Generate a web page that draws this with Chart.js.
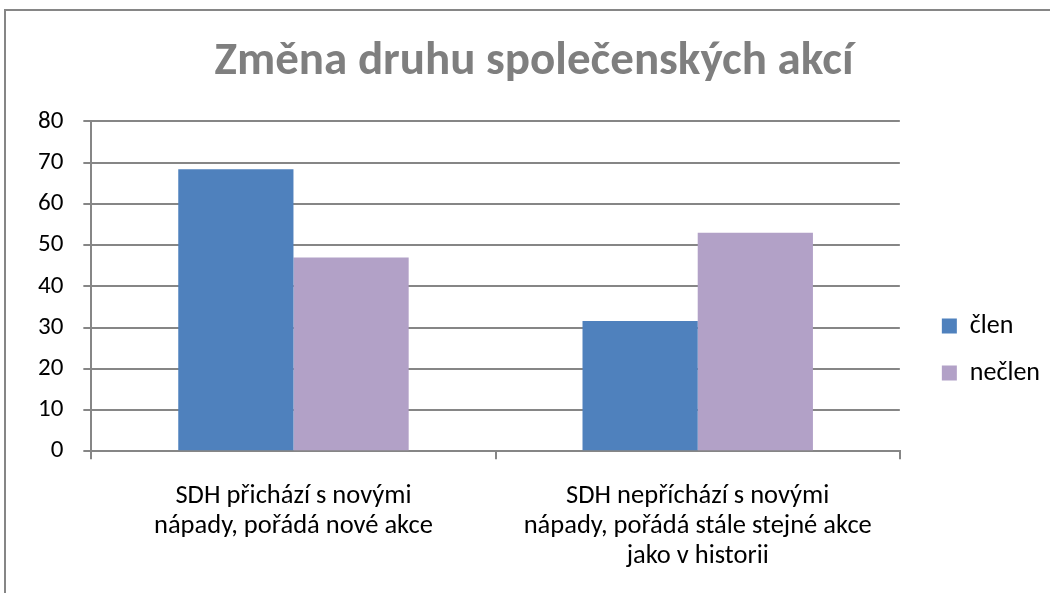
<!DOCTYPE html>
<html>
<head>
<meta charset="utf-8">
<script src="https://cdn.jsdelivr.net/npm/chart.js@4"></script>
<style>
  body { margin: 0; background: #fff; overflow: hidden; }
  #frame { position: absolute; left: 4px; top: 9px; width: 1100px; height: 700px; border: 2px solid #868686; }
  #wrap { position: absolute; left: 0; top: 0; width: 1050px; height: 593px; }
</style>
</head>
<body>
<div id="frame"></div>
<div id="wrap"><canvas id="myChart"></canvas></div>
<script>
var categories = [
    ['SDH přichází s novými', 'nápady, pořádá nové akce'],
    ['SDH nepříchází s novými', 'nápady, pořádá stále stejné akce', 'jako v historii']
];
var clen = [68.4, 31.6];
var neclen = [47, 53];
var yTicks = [0, 10, 20, 30, 40, 50, 60, 70, 80];

var fontFam = 'Carlito, "Open Sans", sans-serif';

// legend sits a bit wider and lower than chart.js puts it
var legendShift = {
    id: 'legendShift',
    beforeInit: function(chart) {
        var lg = chart.legend;
        if (lg && !lg._wide) {
            var fit = lg.fit;
            lg.fit = function() {
                fit.call(this);
                this.width += 21;
            };
            lg._wide = true;
        }
    },
    afterLayout: function(chart) {
        var lg = chart.legend;
        lg.left += 21;
        lg.top += 86;
    }
};

var ctx = document.getElementById('myChart').getContext('2d');
var myChart = new Chart(ctx, {
    type: 'bar',
    data: {
        labels: categories,
        datasets: [{
            label: 'člen',
            data: clen,
            backgroundColor: '#4F81BD',
            borderColor: '#4F81BD',
            borderWidth: 0
        }, {
            label: 'nečlen',
            data: neclen,
            backgroundColor: '#B2A1C7',
            borderColor: '#B2A1C7',
            borderWidth: 0
        }]
    },
    options: {
        responsive: true,
        maintainAspectRatio: false,
        animation: false,
        datasets: {
            bar: { categoryPercentage: 0.57, barPercentage: 1 }
        },
        layout: {
            padding: { left: 18, right: 0, top: 20, bottom: 0 }
        },
        plugins: {
            title: {
                display: true,
                text: 'Změna druhu společenských akcí',
                color: '#7F7F7F',
                font: { family: fontFam, size: 47, weight: 'bold' },
                padding: { top: 14, bottom: 31 }
            },
            legend: {
                position: 'right',
                labels: {
                    color: '#000',
                    font: { family: fontFam, size: 26 },
                    boxWidth: 15,
                    boxHeight: 15,
                    padding: 21
                }
            },
            tooltip: { enabled: false }
        },
        scales: {
            x: {
                grid: {
                    offset: true,
                    drawOnChartArea: false,
                    color: '#868686',
                    lineWidth: 2,
                    tickLength: 8
                },
                border: { color: '#868686', width: 2 },
                ticks: {
                    color: '#000',
                    font: { family: fontFam, size: 26.5, lineHeight: 1.13 },
                    padding: 22,
                    maxRotation: 0
                }
            },
            y: {
                min: 0,
                max: 80,
                afterBuildTicks: function(axis) {
                    axis.ticks = yTicks.map(function(v) { return { value: v }; });
                },
                grid: {
                    color: '#868686',
                    lineWidth: 2,
                    tickLength: 8
                },
                border: { color: '#868686', width: 2 },
                ticks: {
                    color: '#000',
                    font: { family: fontFam, size: 25 },
                    padding: 20
                }
            }
        }
    },
    plugins: [legendShift]
});
</script>
</body>
</html>
